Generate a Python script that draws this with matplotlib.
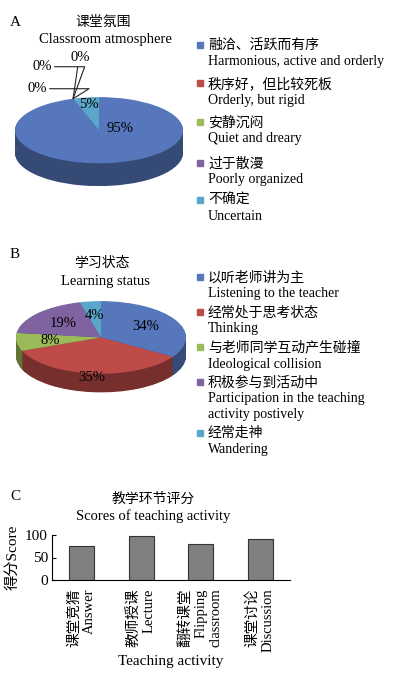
import matplotlib.pyplot as plt
import numpy as np
from matplotlib.colors import to_rgb

plt.rcParams['font.family'] = ['Liberation Serif', 'Noto Sans CJK SC']
plt.rcParams['font.size'] = 10

W, H = 396, 676

# panel A: classroom atmosphere
atmos_cn = ['融洽、活跃而有序', '秩序好，但比较死板', '安静沉闷', '过于散漫', '不确定']
atmos_en = ['Harmonious, active and orderly', 'Orderly, but rigid', 'Quiet and dreary',
            'Poorly organized', 'Uncertain']
atmos_vals = [95, 0, 0, 0, 5]

# panel B: learning status
status_cn = ['以听老师讲为主', '经常处于思考状态', '与老师同学互动产生碰撞', '积极参与到活动中', '经常走神']
status_en = ['Listening to the teacher', 'Thinking', 'Ideological collision',
             'Participation in the teaching\nactivity postively', 'Wandering']
status_vals = [34, 35, 8, 19, 4]

# panel C: scores
activity_cn = ['课堂竞猜', '教师授课', '翻转课堂', '课堂讨论']
activity_en = ['Answer', 'Lecture', 'Flipping\nclassroom', 'Discussion']
scores = [76, 98, 80, 91]

colors = ['#5677BC', '#BE4B48', '#9BBB59', '#7F62A0', '#5AA7CB']
side_colors = [tuple(c * 0.62 for c in to_rgb(col)) for col in colors]

fig = plt.figure(figsize=(W / 100, H / 100), dpi=100)


def px_axes(left, top, width, height):
    return fig.add_axes([left / W, 1 - (top + height) / H, width / W, height / H])


def mid_angles(vals):
    total = sum(vals)
    cum = np.cumsum([0] + list(vals))
    start = 90 - 360 * cum[:-1] / total
    return np.radians(start - 180 * np.array(vals) / total), np.radians(90 - 360 * cum[1:] / total)


def pie3d(ax, vals, depth, top_extra=0.1):
    # stack darker copies downward for the side, then the top face
    for k in np.linspace(depth, 0, 30, endpoint=False):
        ax.pie(vals, colors=side_colors, startangle=90, counterclock=False,
               center=(0, -k), wedgeprops=dict(linewidth=0))
    ax.pie(vals, colors=colors, startangle=90, counterclock=False,
           wedgeprops=dict(linewidth=0))
    ax.set_aspect('auto')
    ax.set_xlim(-1.1, 1.1)
    ax.set_ylim(-1 - depth - 0.1, 1 + top_extra)


# overlay axes in pixel coordinates for titles and legends
ov = fig.add_axes([0, 0, 1, 1], zorder=-1)
ov.set_xlim(0, W)
ov.set_ylim(H, 0)
ov.axis('off')


def legend(y_cn, cn, en):
    for y, c, e, col in zip(y_cn, cn, en, colors):
        ov.plot(200, y, 's', ms=4, color=col)
        ov.text(208, y - 6, c + '\n' + e, va='top', ha='left', fontsize=10, linespacing=1.3)


# ---- A ----
ov.text(15, 23, 'A', fontsize=11, va='center', ha='center')
ov.text(103, 22, '课堂氛围', fontsize=10, va='center', ha='center')
ov.text(105, 40, 'Classroom atmosphere', fontsize=10.5, va='center', ha='center')
legend([45, 83, 122, 163, 200], atmos_cn, atmos_en)

axA = px_axes(99 - 92.4, 129 - 1.1 * 32, 184.8, (2.2 + 22 / 32) * 32 + 3.2)
pie3d(axA, atmos_vals, 22 / 32)
mids, ends = mid_angles(atmos_vals)
axA.text(0.25, 0.05, f'{atmos_vals[0]}%', ha='center', va='center', fontsize=10.5)
axA.text(0.8 * np.cos(mids[4]), 0.8 * np.sin(mids[4]), f'{atmos_vals[4]}%',
         ha='center', va='center', fontsize=10.5)
zero_off = [(-36, 10, 'angle,angleA=0,angleB=32,rad=0', (1, 0.5)),
            (-31, 32, 'angle,angleA=0,angleB=70,rad=0', (1, 0.5)),
            (7, 41, 'arc3', (0.4, 0))]
for i, (dx, dy, cs, rp) in zip([1, 2, 3], zero_off):
    a = ends[i]
    axA.annotate(f'{atmos_vals[i]}%', xy=(np.cos(a), np.sin(a)), xytext=(dx, dy),
                 textcoords='offset pixels', ha='center', va='center', fontsize=10.5,
                 arrowprops=dict(arrowstyle='-', color='#222222', lw=0.8,
                                 connectionstyle=cs, relpos=rp, shrinkA=0, shrinkB=0))

# ---- B ----
ov.text(15, 255, 'B', fontsize=11, va='center', ha='center')
ov.text(102, 263, '学习状态', fontsize=10, va='center', ha='center')
ov.text(105, 281, 'Learning status', fontsize=10.5, va='center', ha='center')
legend([277, 312, 347, 382, 433], status_cn, status_en)

axB = px_axes(101 - 93.5, 336 - 1.1 * 35, 187, (2.2 + 18 / 35) * 35 + 3.5)
pie3d(axB, status_vals, 18 / 35)
mids, ends = mid_angles(status_vals)
for v, a, r in zip(status_vals, mids, [0.6, 1.1, 0.6, 0.6, 0.6]):
    axB.text(r * np.cos(a), r * np.sin(a), f'{v}%', ha='center', va='center', fontsize=10.5)

# ---- C ----
ov.text(15, 497, 'C', fontsize=11, va='center', ha='center')
ov.text(153, 499, '教学环节评分', fontsize=10, va='center', ha='center')
ov.text(153, 516, 'Scores of teaching activity', fontsize=10.5, va='center', ha='center')

axC = px_axes(52, 535, 238, 45)
x = np.arange(len(scores))
axC.bar(x, scores, width=0.42, color='#808080', edgecolor='#333333', linewidth=0.8)
axC.set_xlim(-0.5, len(scores) - 0.5)
axC.set_ylim(0, 100)
axC.set_yticks([0, 50, 100])
axC.set_xticks(x)
axC.set_xticklabels([c + '\n' + e for c, e in zip(activity_cn, activity_en)],
                    rotation=90, ha='center', va='top', ma='right', fontsize=10.5)
axC.tick_params(axis='x', length=0, pad=6)
axC.tick_params(axis='y', direction='in', length=3, labelsize=11, pad=3)
axC.spines[['top', 'right']].set_visible(False)
axC.set_ylabel('得分Score', fontsize=11, labelpad=4)
axC.set_xlabel('Teaching activity', fontsize=11, labelpad=2)

fig.savefig('out.png', dpi=100)
